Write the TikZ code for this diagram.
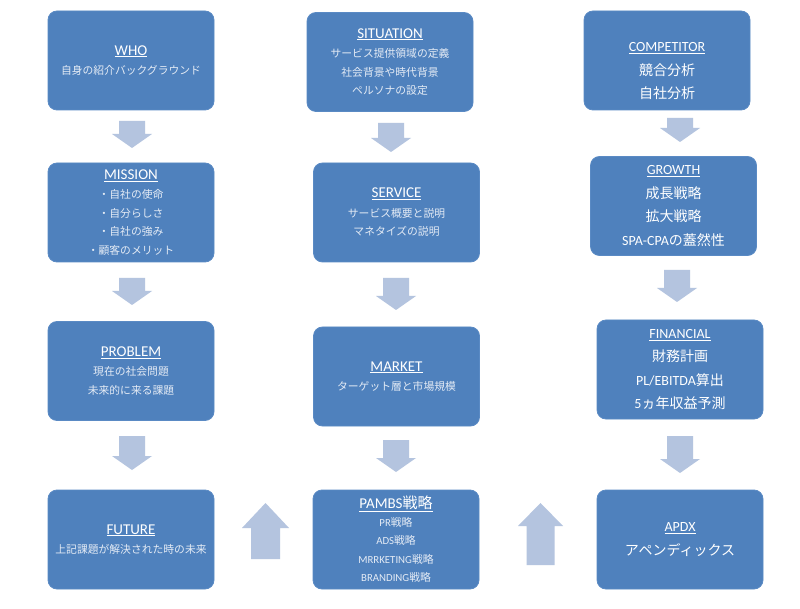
\documentclass[tikz,border=0pt]{standalone}
\usepackage{fontspec}
\setmainfont{Carlito}
\newfontfamily\jpfont{Noto Sans CJK JP}
\newcommand\jpn[1]{{\jpfont #1}}
\definecolor{boxblue}{HTML}{4F81BD}
\definecolor{boxedge}{HTML}{5A8AC4}
\definecolor{arrowfill}{HTML}{B4C4DF}
\definecolor{softwhite}{HTML}{E4EBF5}
\newcommand\blockdn[3]{\fill[arrowfill] ({#1-13},#2) -- ({#1+13},#2) -- ({#1+13},{#3-14}) -- ({#1+20},{#3-14}) -- (#1,#3) -- ({#1-20},{#3-14}) -- ({#1-13},{#3-14}) -- cycle;}
\newcommand\blockup[6]{% cx, halfhead, halfshaft, tip, headbase, bottom
\fill[arrowfill] ({#1-#3},#6) -- ({#1+#3},#6) -- ({#1+#3},#5) -- ({#1+#2},#5) -- (#1,#4) -- ({#1-#2},#5) -- ({#1-#3},#5) -- cycle;}
\tikzset{
  card/.style={rounded corners=9pt, fill=boxblue, draw=boxedge, line width=0.8pt,
    minimum width=166pt, minimum height=99pt, inner sep=0pt, align=center, text=softwhite,
    font=\fontsize{10.8}{18.5}\selectfont},
  bigcard/.style={card, text=white, font=\fontsize{14}{23.5}\selectfont},
  cardtext/.style={inner sep=0pt, align=center, text=white, font=\fontsize{14}{23.5}\selectfont},
}
\newcommand\ttl[1]{{\color{white}\fontsize{15}{18}\selectfont\underline{#1}}}
\newcommand\ttls[1]{{\color{white}\fontsize{14}{18}\selectfont\underline{#1}}}
\begin{document}
\begin{tikzpicture}[x=1pt,y=-1pt]
\useasboundingbox[fill=white] (0,0) rectangle (800,609);
% row 1
\node[card] (who) at (131,60.5) {\ttl{WHO}\\[1pt]\jpn{自身の紹介バックグラウンド}};
\node[card] (situation) at (390,62) {\ttl{SITUATION}\\[1pt]\jpn{サービス提供領域の定義}\\\jpn{社会背景や時代背景}\\\jpn{ペルソナの設定}};
\node[card] (competitor) at (667,60.5) {};
\node[cardtext] (competitortext) at ([yshift=-11pt]competitor.center) {\ttls{COMPETITOR}\\\jpn{競合分析}\\\jpn{自社分析}};
% row 2
\node[card] (mission) at (131,212.5) {\ttl{MISSION}\\[1pt]\jpn{・自社の使命}\\\jpn{・自分らしさ}\\\jpn{・自社の強み}\\\jpn{・顧客のメリット}};
\node[card] (service) at (396.5,212.5) {\ttl{SERVICE}\\[1pt]\jpn{サービス概要と説明}\\\jpn{マネタイズの説明}};
\node[bigcard] (growth) at (673.5,206) {\ttls{GROWTH}\\\jpn{成長戦略}\\\jpn{拡大戦略}\\SPA-CPA\jpn{の蓋然性}};
% row 3
\node[card] (problem) at (131,371) {\ttl{PROBLEM}\\[1pt]\jpn{現在の社会問題}\\\jpn{未来的に来る課題}};
\node[card] (market) at (396.5,376.5) {\ttl{MARKET}\\[1pt]\jpn{ターゲット層と市場規模}};
\node[bigcard] (financial) at (680,369.5) {\ttls{FINANCIAL}\\\jpn{財務計画}\\PL/EBITDA\jpn{算出}\\5\jpn{ヵ年収益予測}};
% row 4
\node[card] (future) at (131,539.5) {\ttl{FUTURE}\\[1pt]\jpn{上記課題が解決された時の未来}};
\node[card] (pambs) at (396,539.5) {\ttl{PAMBS\jpn{戦略}}\\[-1pt]PR\jpn{戦略}\\ADS\jpn{戦略}\\MRRKETING\jpn{戦略}\\BRANDING\jpn{戦略}};
\node[bigcard] (apdx) at (680,539.5) {\ttls{APDX}\\\jpn{アペンディックス}};
% down arrows
\blockdn{132}{121}{148}
\blockdn{391}{123}{152}
\blockdn{680}{118}{142}
\blockdn{132}{278}{305}
\blockdn{396}{278}{310}
\blockdn{677}{270}{302}
\blockdn{132}{436}{470}
\blockdn{396}{440}{472}
\blockdn{680}{436}{473}
% up arrows
\blockup{265.5}{23.5}{14.5}{503}{528}{559}
\blockup{540.5}{22.5}{14}{503}{526}{565}
\end{tikzpicture}
\end{document}
